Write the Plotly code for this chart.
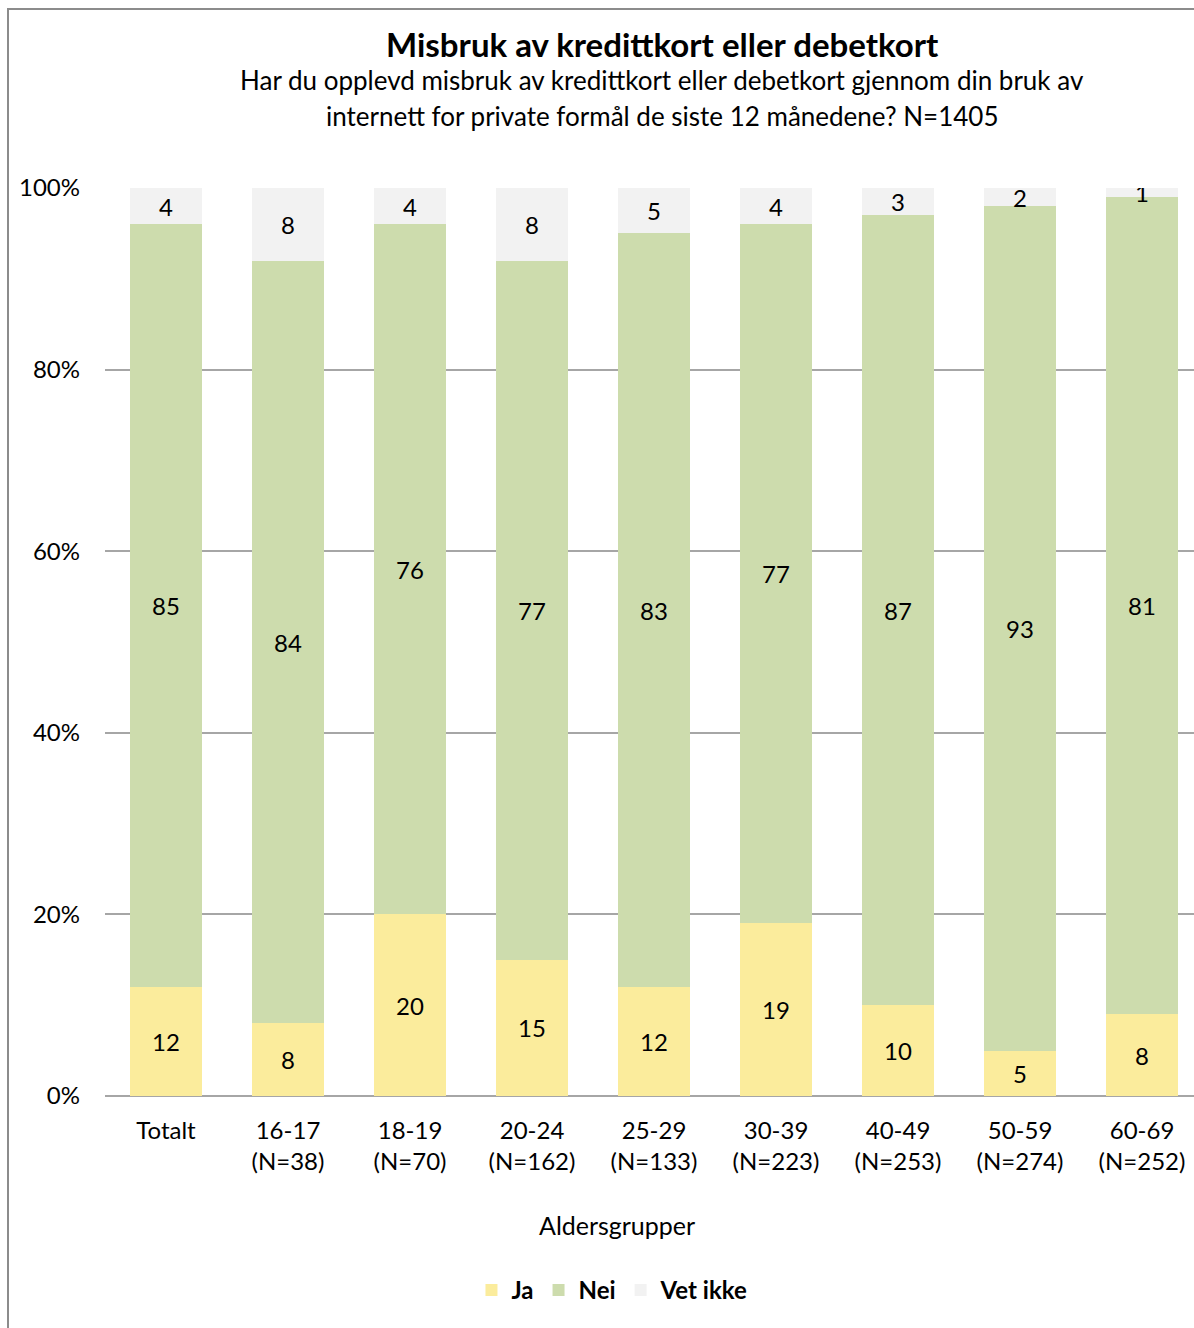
import plotly.graph_objects as go

categories = ["Totalt", "16-17<br>(N=38)", "18-19<br>(N=70)", "20-24<br>(N=162)", "25-29<br>(N=133)",
              "30-39<br>(N=223)", "40-49<br>(N=253)", "50-59<br>(N=274)", "60-69<br>(N=252)"]
ja = [12, 8, 20, 15, 12, 19, 10, 5, 9]
nei = [84, 84, 76, 77, 83, 77, 87, 93, 90]
vet_ikke = [4, 8, 4, 8, 5, 4, 3, 2, 1]
ja_labels = [12, 8, 20, 15, 12, 19, 10, 5, 8]
nei_labels = [85, 84, 76, 77, 83, 77, 87, 93, 81]
vet_labels = [4, 8, 4, 8, 5, 4, 3, 2, 1]

FONT = "Lato"
x_idx = list(range(len(categories)))

fig = go.Figure()
for name, vals, labels, color in [
    ("Ja", ja, ja_labels, "#FBEC9C"),
    ("Nei", nei, nei_labels, "#CDDCAD"),
    ("Vet ikke", vet_ikke, vet_labels, "#F2F2F2"),
]:
    fig.add_trace(go.Bar(
        x=x_idx, y=vals, name=name, marker=dict(color=color, line=dict(width=0)),
        width=0.59, text=[str(v) for v in labels], textposition="inside",
        insidetextanchor="middle", constraintext="none", textangle=0,
        textfont=dict(family=FONT, size=24, color="#000000"),
        hoverinfo="skip",
    ))

fig.update_layout(
    barmode="stack",
    width=1194, height=1328,
    margin=dict(l=105, r=0, t=188, b=232),
    paper_bgcolor="white", plot_bgcolor="white",
    font=dict(family=FONT, size=24, color="#000000"),
    showlegend=True,
    legend=dict(orientation="h", x=0.466, xanchor="center", y=-0.214, yanchor="middle",
                font=dict(family=FONT, size=24, color="#000000", weight="bold"),
                traceorder="normal", itemwidth=30, bgcolor="rgba(0,0,0,0)"),
    xaxis=dict(tickmode="array", tickvals=x_idx, ticktext=categories, range=[-0.5, 8.426],
               showgrid=False, showline=False, zeroline=False, ticks="",
               tickfont=dict(family=FONT, size=24), ticklabelstandoff=18),
    yaxis=dict(range=[0, 100], tickvals=[0, 20, 40, 60, 80, 100],
               ticktext=["0%", "20%", "40%", "60%", "80%", "100%"],
               showgrid=True, gridcolor="#A6A6A6", gridwidth=2, zeroline=True,
               zerolinecolor="#A6A6A6", zerolinewidth=2, showline=False, ticks="",
               tickfont=dict(family=FONT, size=24), ticklabelstandoff=24),
    annotations=[
        dict(text="<b>Misbruk av kredittkort eller debetkort</b>", xref="paper", yref="paper",
             x=(662 - 105) / 1089, y=1 + (188 - 44) / 908, xanchor="center", yanchor="middle",
             showarrow=False, font=dict(family=FONT, size=33)),
        dict(text="Har du opplevd misbruk av kredittkort eller debetkort gjennom din bruk av",
             xref="paper", yref="paper", x=(662 - 105) / 1089, y=1 + (188 - 80) / 908,
             xanchor="center", yanchor="middle", showarrow=False, font=dict(family=FONT, size=26)),
        dict(text="internett for private formål de siste 12 månedene? N=1405",
             xref="paper", yref="paper", x=(662 - 105) / 1089, y=1 + (188 - 116) / 908,
             xanchor="center", yanchor="middle", showarrow=False, font=dict(family=FONT, size=26)),
        dict(text="Aldersgrupper", xref="paper", yref="paper", x=(617 - 105) / 1089,
             y=(1096 - 1225) / 908, xanchor="center", yanchor="middle", showarrow=False,
             font=dict(family=FONT, size=25)),
    ],
    shapes=[dict(type="rect", xref="paper", yref="paper",
                 x0=(8 - 105) / 1089, x1=(1250 - 105) / 1089,
                 y0=(1096 - 1400) / 908, y1=1 + (188 - 9) / 908,
                 line=dict(color="#8C8C8C", width=2), fillcolor="rgba(0,0,0,0)", layer="below")],
)

fig.write_html("out.html", config={"displayModeBar": False},
               post_script="document.body.style.margin='0';document.body.style.overflow='hidden';")
